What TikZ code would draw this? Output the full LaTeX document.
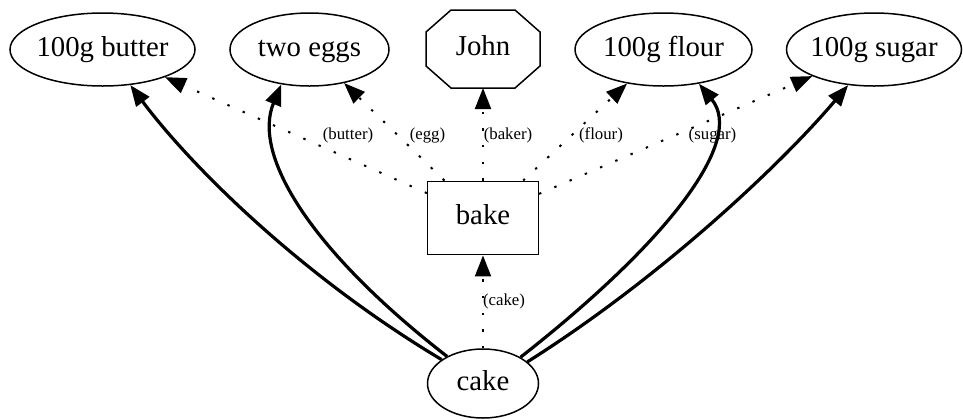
\documentclass[tikz,border=0pt]{standalone}
\usepackage{fontspec}
\setmainfont{Liberation Serif}
\usetikzlibrary{shapes.geometric,arrows.meta}

\begin{document}
\begin{tikzpicture}[
    x=0.5pt, y=-0.5pt,
    every node/.style={inner sep=0pt, line width=0.75pt},
    bigtext/.style={font=\fontsize{14.4}{17}\selectfont, text height=9.8pt, text depth=3.2pt},
    ingredient/.style={draw, ellipse, bigtext, inner xsep=-1.5pt, minimum height=36.5pt},
    stepbox/.style={draw, rectangle, bigtext, minimum width=55.3pt, minimum height=36.7pt},
    agent/.style={rectangle, bigtext, outer sep=0pt, minimum width=57pt, minimum height=39pt},
    rolelabel/.style={font=\fontsize{8.4}{10}\selectfont},
    role/.style={line width=1pt, dash pattern=on 1.2pt off 7.1pt,
        -{Triangle[length=10.5pt, width=8pt]}},
    part/.style={line width=1.6pt, -{Triangle[length=10.5pt, width=8pt]}}
]
\useasboundingbox (0,0) rectangle (963,419);

% Top row: ingredients and baker
\node[ingredient, minimum width=92.5pt] (butter) at (102.5,49.5) {100g butter};
\node[ingredient, minimum width=79.5pt] (eggs) at (309.5,49.5) {two eggs};
\node[agent] (john) at (483,49) {John};
\node[ingredient, minimum width=88.5pt] (flour) at (663.5,49.5) {100g flour};
\node[ingredient, minimum width=87.5pt] (sugar) at (874,49.5) {100g sugar};

% Octagon outline of the baker
\draw[line width=0.75pt] ([xshift=-16pt]john.north) -- ([xshift=16pt]john.north)
    -- ([yshift=8.5pt]john.east) -- ([yshift=-8.5pt]john.east)
    -- ([xshift=16pt]john.south) -- ([xshift=-16pt]john.south)
    -- ([yshift=-8.5pt]john.west) -- ([yshift=8.5pt]john.west) -- cycle;

% Step and result
\node[stepbox] (bake) at (483,218) {bake};
\node[ingredient, minimum width=55.5pt, minimum height=34.5pt] (cake) at (483,383.5) {cake};

% Roles of the bake step
\foreach \target/\x/\role in {butter/348/butter, eggs/427.5/egg, john/508/baker, flour/601/flour, sugar/712.5/sugar} {
    \node[rolelabel] (l-\target) at (\x,135) {(\role)};
    \draw[role] (bake) -- (\target);
}
\node[rolelabel] (l-cake) at (504,301) {(cake)};
\draw[role] (cake) -- (bake);

% Cake made of the ingredients
\draw[part] (cake.150) .. controls (300,275) and (190,165) .. (butter.-52);
\draw[part] (cake.143) .. controls (310,250) and (252,155) .. (eggs.-129);
\draw[part] (cake.35) .. controls (670,240) and (745,140) .. (flour.-44);
\draw[part] (cake.26) .. controls (665,275) and (785,160) .. (sugar.-126);

\end{tikzpicture}
\end{document}
